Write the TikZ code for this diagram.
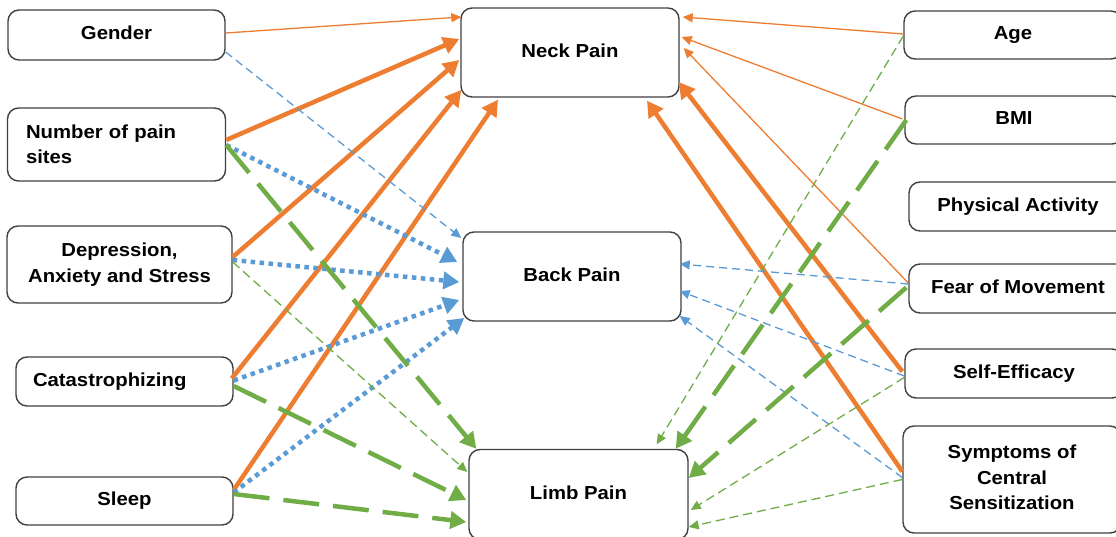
\documentclass[tikz,border=0pt]{standalone}
\usepackage{fontspec}
\setmainfont{Liberation Sans}[FakeStretch=1.08]
\usetikzlibrary{arrows.meta}
\definecolor{edgeorange}{HTML}{ED7D31}
\definecolor{edgeblue}{HTML}{5B9BD5}
\definecolor{edgegreen}{HTML}{70AD47}
\definecolor{boxline}{HTML}{404040}
\newcommand\boxfont{\bfseries\fontsize{18.8}{25.5}\selectfont}
\begin{document}
\begin{tikzpicture}[x=1pt,y=-1pt,
  box/.style={draw=boxline, line width=1.4pt, rounded corners=11pt, fill=white,
    align=center, inner sep=0pt, font=\boxfont, minimum width=218pt,
    text depth=4pt},
  leftbox/.style={box, align=left, inner xsep=17pt, text width=183pt},
  bigtip/.style={-{Triangle[length=16pt,width=17pt]}},
  smalltip/.style={-{Triangle[length=10pt,width=9pt]}},
  othin/.style={draw=edgeorange, line width=1.3pt, smalltip},
  othick/.style={draw=edgeorange, line width=4.5pt, bigtip},
  bthin/.style={draw=edgeblue, line width=1.3pt, dash pattern=on 8pt off 5pt, smalltip},
  bdot/.style={draw=edgeblue, line width=4.5pt, dash pattern=on 4.5pt off 4.5pt, bigtip},
  gthin/.style={draw=edgegreen, line width=1.3pt, dash pattern=on 9pt off 5pt, smalltip},
  gthick/.style={draw=edgegreen, line width=4.5pt, dash pattern=on 36pt off 14pt, bigtip},
]
\clip (0,0) rectangle (1116,536);
\fill[white] (0,0) rectangle (1116,536);

% predictors (left column)
\node[box, minimum width=217pt, minimum height=50pt] (gender) at (116.5,35) {Gender};
\node[leftbox, inner xsep=18pt, text width=181pt, text depth=, minimum height=73pt] (nps) at (116.5,144.5) {Number of pain\\sites};
\node[box, minimum width=225pt, minimum height=77pt] (dep) at (119.5,264.5) {Depression,\\Anxiety and Stress};
\node[leftbox, minimum width=217pt, text width=183pt, minimum height=49pt] (cat) at (124.5,381.5) {Catastrophizing};
\node[box, minimum width=217pt, minimum height=48pt] (sleep) at (124.5,501) {Sleep};

% outcomes (middle column)
\node[box, minimum height=89pt] (neck) at (570,52.5) {Neck Pain};
\node[box, minimum height=89pt] (back) at (572,276.5) {Back Pain};
\node[box, minimum width=219pt, minimum height=90pt] (limb) at (578.5,494.5) {Limb Pain};

% predictors (right column)
\node[box, minimum height=48pt] (age) at (1013,35) {Age};
\node[box, minimum height=48pt] (bmi) at (1014,120) {BMI};
\node[box, minimum height=49pt] (pa) at (1018,206.5) {Physical Activity};
\node[box, minimum height=49pt] (fom) at (1018,288.5) {Fear of Movement};
\node[box, minimum height=49pt] (se) at (1014,373.5) {Self-Efficacy};
\node[box, minimum height=107pt] (sym) at (1012,479.5) {Symptoms of\\Central\\Sensitization};

% paths to neck pain
\draw[othin]  ([yshift=2pt]gender.east) -- ([xshift=1pt,yshift=35.5pt]neck.west);
\draw[othick] ([yshift=4.5pt]nps.east) -- ([xshift=-1pt,yshift=13.5pt]neck.west);
\draw[othick] ([yshift=7.5pt]dep.east) -- ([xshift=-1pt,yshift=-7.5pt]neck.west);
\draw[othick] ([xshift=-2pt,yshift=3pt]cat.east) -- ([xshift=1pt,yshift=-37.5pt]neck.west);
\draw[othick] ([yshift=11pt]sleep.east) -- ([xshift=-72pt,yshift=-2pt]neck.south);
\draw[othin]  ([yshift=1pt]age.west) -- ([xshift=3pt,yshift=35.5pt]neck.east);
\draw[othin]  ([xshift=-2pt,yshift=1pt]bmi.west) -- ([xshift=2pt,yshift=15.5pt]neck.east);
\draw[othin]  ([yshift=5.5pt]fom.west) -- ([xshift=4pt,yshift=4.5pt]neck.east);
\draw[othick] ([xshift=-2pt,yshift=2pt]se.west) -- ([xshift=-1pt,yshift=-29.5pt]neck.east);
\draw[othick] ([yshift=8pt]sym.west) -- ([xshift=77pt,yshift=-3pt]neck.south);

% paths to back pain
\draw[bthin] ([yshift=-17pt]gender.east) -- ([xshift=-1pt,yshift=38.5pt]back.west);
\draw[bdot]  ([yshift=-0.5pt]nps.east) -- ([xshift=-5pt,yshift=14.5pt]back.west);
\draw[bdot]  ([yshift=4.5pt]dep.east) -- ([xshift=-3pt,yshift=-5.5pt]back.west);
\draw[bdot]  ([yshift=1pt]cat.east) -- ([xshift=-3pt,yshift=-23.5pt]back.west);
\draw[bdot]  ([yshift=8.5pt]sleep.east) -- ([xshift=2pt,yshift=-41.5pt]back.west);
\draw[bthin] ([yshift=4.5pt]fom.west) -- ([xshift=-2pt,yshift=12.5pt]back.east);
\draw[bthin] ([yshift=-2.5pt]se.west) -- ([xshift=-2pt,yshift=-14.5pt]back.east);
\draw[bthin] ([yshift=2pt]sym.west) -- ([xshift=-2pt,yshift=-39.5pt]back.east);

% paths to limb pain
\draw[gthick] ([yshift=-0.5pt]nps.east) -- ([xshift=8pt]limb.north west);
\draw[gthin]  ([yshift=2.5pt]dep.east) -- ([xshift=-1pt,yshift=22.5pt]limb.west);
\draw[gthick] ([yshift=-4.5pt]cat.east) -- ([xshift=-2pt,yshift=-5.5pt]limb.west);
\draw[gthick] ([yshift=7pt]sleep.east) -- ([xshift=-2pt,yshift=-27.5pt]limb.west);
\draw[gthin]  ([yshift=-1pt]age.west) -- ([xshift=-32pt,yshift=4.5pt]limb.north east);
\draw[gthick] ([xshift=2pt]bmi.west) -- ([xshift=-13pt]limb.north east);
\draw[gthick] ([xshift=-2pt,yshift=1pt]fom.west) -- ([yshift=16.5pt]limb.east);
\draw[gthin]  ([yshift=-4pt]se.west) -- ([xshift=2pt,yshift=-15.5pt]limb.east);
\draw[gthin]  (sym.west) -- ([yshift=-32.5pt]limb.east);
\end{tikzpicture}
\end{document}
